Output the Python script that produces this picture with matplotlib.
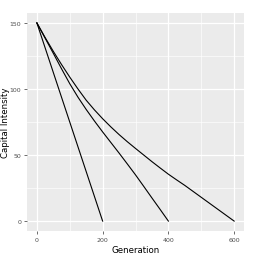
import matplotlib
matplotlib.use("Agg")
import matplotlib.pyplot as plt

gen1 = [0, 50, 100, 150, 200]
cap1 = [150, 112.5, 75, 37.5, 0]
gen2 = [0, 25, 50, 75, 100, 125, 150, 175, 200, 225, 250, 275, 300, 325, 350, 375, 400]
cap2 = [150, 138.5, 127, 115.3, 104, 93.8, 84.5, 75.8, 67.5, 59.5, 51.5, 43.3, 35,
        26.3, 17.5, 8.8, 0]
gen3 = [0, 25, 50, 75, 100, 125, 150, 175, 200, 225, 250, 275, 300, 325, 350, 375,
        400, 425, 450, 475, 500, 525, 550, 575, 600]
cap3 = [150, 139, 128.5, 118.5, 109, 100, 91.5, 84.2, 77.5, 71.3, 65.5, 60.1, 55,
        50, 45, 40.2, 35.5, 31.2, 27, 22.5, 18, 13.5, 9, 4.5, 0]
xticks = [0, 200, 400, 600]
yticks = [0, 50, 100, 150]

W, H = 261, 255
fig = plt.figure(figsize=(W / 100, H / 100), dpi=100)
ax = fig.add_axes([27 / W, 1 - 232 / H, (244 - 27) / W, (232 - 14) / H])
ax.set_facecolor("#EBEBEB")
for s in ax.spines.values():
    s.set_visible(False)

for g, c in [(gen1, cap1), (gen2, cap2), (gen3, cap3)]:
    ax.plot(g, c, color="black", lw=0.8, zorder=3, solid_joinstyle="round")

ax.set_xlim(-30, 630)
ax.set_ylim(-7.5, 157.5)
ax.set_xticks(xticks)
ax.set_yticks(yticks)
ax.set_xticks([100, 300, 500], minor=True)
ax.set_yticks([25, 75, 125], minor=True)
ax.grid(which="major", color="white", lw=0.9)
ax.grid(which="minor", color="white", lw=0.45)
ax.set_axisbelow(True)
ax.tick_params(which="major", length=2.2, width=0.5, color="#333333",
               labelsize=4.5, labelcolor="#4D4D4D", pad=2)
ax.tick_params(which="minor", length=0)
ax.set_xlabel("Generation", fontsize=6.2, labelpad=2)
ax.set_ylabel("Capital Intensity", fontsize=6.2)
ax.yaxis.set_label_coords((10.5 - 27) / 217, 0.5)

fig.savefig("out.png", dpi=100)
